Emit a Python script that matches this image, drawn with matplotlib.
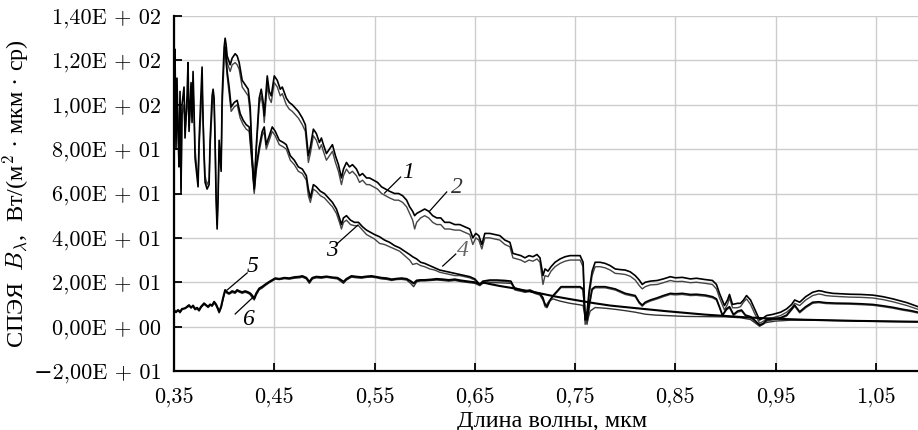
import matplotlib.pyplot as plt

# wavelength grids and spectral radiance values
# curves 1, 2 (upper pair) - common noisy start, then the upper branch
wl_top = [0.350, 0.351, 0.352, 0.353, 0.354, 0.355, 0.356, 0.357, 0.358, 0.360,
          0.361, 0.363, 0.364, 0.365, 0.367, 0.368, 0.369, 0.370, 0.371, 0.373,
          0.374, 0.375, 0.377, 0.378, 0.379, 0.380, 0.381, 0.383, 0.385, 0.386,
          0.388, 0.389, 0.390, 0.391, 0.392, 0.393, 0.394, 0.395, 0.397, 0.398,
          0.400, 0.401, 0.402,
          0.403, 0.406, 0.408, 0.411, 0.413, 0.415, 0.418, 0.421, 0.424, 0.426,
          0.428, 0.430, 0.432, 0.435, 0.437, 0.439, 0.440, 0.443, 0.445, 0.447,
          0.450, 0.453, 0.456, 0.458, 0.462, 0.465, 0.468, 0.470, 0.474, 0.478,
          0.481, 0.484, 0.486, 0.489, 0.492, 0.495, 0.497, 0.499, 0.502, 0.505,
          0.508, 0.511, 0.514, 0.517, 0.519, 0.522, 0.525, 0.528, 0.532, 0.535,
          0.538, 0.542, 0.545, 0.549, 0.553, 0.557, 0.561, 0.565, 0.570, 0.574,
          0.578, 0.582, 0.585, 0.588, 0.590, 0.592, 0.596, 0.600, 0.604, 0.608,
          0.612, 0.616, 0.620, 0.625, 0.630, 0.635, 0.640, 0.645, 0.648, 0.651,
          0.654, 0.657, 0.660, 0.665, 0.670, 0.675, 0.680, 0.685, 0.688, 0.692,
          0.696, 0.700, 0.704, 0.708, 0.712, 0.715, 0.718, 0.720, 0.723, 0.726,
          0.730, 0.735, 0.740, 0.745, 0.750, 0.755, 0.758, 0.760, 0.762, 0.764,
          0.767, 0.770, 0.775, 0.780, 0.785, 0.790, 0.795, 0.800, 0.805, 0.810,
          0.814, 0.817, 0.820, 0.825, 0.832, 0.838, 0.845, 0.850, 0.857, 0.865,
          0.871, 0.880, 0.887, 0.891, 0.894, 0.899, 0.902, 0.904, 0.907, 0.912,
          0.915, 0.918, 0.921, 0.925, 0.929, 0.934, 0.938, 0.941, 0.947, 0.955,
          0.961, 0.966, 0.969, 0.974, 0.980, 0.987, 0.993, 0.996, 1.000, 1.007,
          1.015, 1.024, 1.035, 1.047, 1.057, 1.067, 1.075, 1.081, 1.087, 1.092]

b1 = [98, 115, 85, 105, 92, 75, 100, 62, 95, 100,
      88, 98, 108, 90, 103, 95, 108, 95, 80, 70,
      66, 80, 98, 108, 95, 80, 68, 64, 66, 80,
      98, 104, 101, 85, 60, 46, 60, 80, 72, 98,
      120, 126, 124,
      119, 115, 118, 119, 118, 116, 108, 106, 104, 96,
      74, 61, 79, 100, 104, 98, 92, 109, 103, 101,
      110, 108, 104, 105, 100, 98, 97, 96, 94, 91,
      88, 74, 78, 86, 84, 80, 82, 79, 75, 77,
      79, 74, 70, 64, 68, 71, 69, 70, 68, 65,
      66, 64, 64, 63, 62, 60, 59, 58, 57, 57,
      56, 54, 51, 48, 44, 47, 49, 50, 49, 47,
      46, 46, 44, 44, 43.5, 43.5, 42.5, 41.5, 37, 40,
      39, 35, 40, 40, 39.5, 39, 37, 36, 31, 30.5,
      30, 29, 30, 29.5, 30.5, 29, 19, 23, 22.5, 25,
      27, 28.5, 29.5, 30, 30, 30, 27, 1, 5, 14,
      23, 27, 27, 26.5, 25.5, 24, 23.8, 23.5, 22.7, 21,
      18.5, 17, 18, 18.8, 19, 19.8, 20.8, 20.3, 20.4, 19.8,
      20, 19.5, 19, 17, 13, 7.5, 10, 13, 8.5, 8.5,
      9, 11, 12.5, 10, 6, 1.5, 2.5, 3.5, 4, 5,
      6.5, 8.5, 10.5, 9.5, 12, 14, 14.7, 14.5, 14, 13.7,
      13.5, 13.3, 13.2, 12.9, 12.2, 11.2, 10.2, 9.5, 8.6, 7.8]

b2 = [105, 125, 80, 112, 88, 72, 106, 60, 100, 108,
      85, 104, 119, 88, 110, 92, 115, 98, 76, 67,
      63, 84, 106, 117, 92, 76, 65, 62, 64, 84,
      104, 107, 103, 82, 57, 44, 58, 84, 70, 104,
      126, 130, 127,
      122, 118, 121, 123, 122, 119, 111, 109, 107, 99,
      76, 63, 81, 103, 107, 101, 95, 113, 106, 104,
      113, 111, 107, 108, 103, 101, 100, 99, 97, 94,
      91, 77, 81, 89, 87, 83, 85, 82, 78, 80,
      82, 77, 73, 67, 71, 74, 72, 73, 71, 68,
      69, 67, 67, 66, 65, 63, 62, 61, 60, 60,
      59, 57, 54, 52, 50, 51, 52, 53, 52, 50,
      49, 49, 47, 47, 46, 46, 45, 44, 40, 42,
      41, 37, 42, 42, 41.5, 41, 39, 38, 33, 32.5,
      32, 31, 32, 31.5, 32.5, 31, 23, 26, 25, 27,
      29, 30.5, 31.5, 32, 32, 32, 29, 3, 7, 16,
      25, 29, 29, 28.5, 27.5, 26, 25.7, 25.5, 24.7, 23,
      21, 19, 20, 20.5, 20.8, 21.5, 22.5, 22, 22.2, 21.5,
      21.8, 21.2, 20.8, 19, 15, 9.5, 12, 14.5, 10, 10.5,
      10.5, 12, 14, 12, 8, 3, 4, 5, 5.5, 6.5,
      8, 10, 12, 11, 13.5, 15.5, 16.2, 16, 15.5, 15,
      14.8, 14.6, 14.5, 14.2, 13.5, 12.5, 11.5, 10.8, 9.8, 9]

# curves 3, 4 (middle pair) - branch off at 0.40 mkm
wl_mid = [0.401,
          0.403, 0.405, 0.407, 0.410, 0.413, 0.416, 0.419, 0.422, 0.425, 0.428,
          0.430, 0.432, 0.435, 0.438, 0.440, 0.442, 0.445, 0.448, 0.451, 0.455,
          0.459, 0.462, 0.466, 0.470, 0.474, 0.478, 0.482, 0.484, 0.486, 0.489,
          0.492, 0.496, 0.500, 0.504, 0.508, 0.512, 0.515, 0.517, 0.519, 0.522,
          0.526, 0.530, 0.534, 0.538, 0.542, 0.546, 0.550, 0.555, 0.560, 0.565,
          0.570, 0.575, 0.580, 0.585, 0.588, 0.592, 0.596, 0.600, 0.605, 0.610,
          0.615, 0.620, 0.625, 0.630, 0.635, 0.640, 0.645, 0.650, 0.655, 0.658,
          0.665, 0.672, 0.680, 0.686, 0.690, 0.695, 0.700, 0.705, 0.710, 0.715,
          0.718, 0.720, 0.722, 0.725, 0.728, 0.732, 0.736, 0.740, 0.745, 0.750,
          0.755, 0.758, 0.760, 0.762, 0.764, 0.767, 0.770, 0.775, 0.780, 0.785,
          0.790, 0.795, 0.800, 0.805, 0.810, 0.814, 0.817, 0.820, 0.825, 0.832,
          0.838, 0.845, 0.850, 0.857, 0.865, 0.871, 0.880, 0.887, 0.891, 0.894,
          0.897, 0.901, 0.904, 0.908, 0.912, 0.916, 0.920, 0.925, 0.929, 0.934,
          0.938, 0.941, 0.947, 0.955, 0.961, 0.966, 0.969, 0.974, 0.980, 0.987,
          0.993, 1.000, 1.010, 1.024, 1.035, 1.047, 1.057, 1.067, 1.077, 1.085,
          1.092]

b3 = [126,
      115, 108, 99, 101, 102, 96, 93, 91, 90, 75,
      62, 72, 81, 88, 90, 82, 86, 90, 88, 84,
      83, 82, 77, 75, 72, 71, 68, 62, 58, 64,
      63, 61, 60, 58, 56, 53, 49, 46, 49, 50,
      48, 47, 47, 45, 43.5, 42.5, 41.5, 40.5, 39, 38,
      36.5, 35.5, 34, 32.5, 31.5, 30.5, 29, 28.5, 27.5, 26.5,
      25.5, 25, 24.5, 24, 23.5, 23, 22.5, 21.5, 19, 20.5,
      21, 21, 20.8, 20.5, 17, 16.5, 16, 16.5, 15.5, 15,
      13, 10, 9, 12, 14, 16, 18, 18, 18, 18,
      18, 17, 5, 3, 10, 17, 18, 18, 18, 17.5,
      17, 16, 15, 14.5, 14, 11, 9.7, 11, 12, 13,
      14, 15, 14.8, 15, 14.5, 14.6, 14.2, 13.5, 12.5, 9,
      5.2, 8, 9, 5.5, 7, 7.5, 5.2, 4.5, 3, 0.7,
      1.5, 3, 3.5, 4, 5.2, 8, 9.7, 6.7, 9, 11,
      11.2, 10.8, 10.6, 10.5, 10.3, 10, 9.4, 8.7, 7.8, 7.2,
      6.5]

b4 = [125,
      113, 105, 97, 99, 100, 94, 91, 89, 88, 72,
      60, 70, 79, 86, 88, 80, 84, 88, 86, 82,
      81, 80, 75, 73, 70, 69, 66, 59, 56, 62,
      61, 59, 58, 56, 54, 51, 47, 44, 47, 48,
      46, 45.5, 45.5, 43.5, 41.5, 40.5, 39.5, 37.5, 37, 36,
      35, 34, 32, 30, 28, 28.5, 27.5, 27, 26, 25.5,
      24.5, 24, 23.5, 23, 23, 22.5, 22, 21, 18.5, 20,
      20.6, 20.6, 20.4, 20, 16.5, 16, 15.5, 16, 15, 14.5,
      12, 9, 8.5, 11.5, 13.5, 15.5, 17.6, 17.6, 17.6, 17.6,
      17.6, 16.5, 3, 1, 8, 16.5, 17.5, 17.5, 17.5, 17,
      16.5, 15.5, 14.5, 14, 13.5, 10.5, 9.2, 10.5, 11.5, 12.5,
      13.5, 14.5, 14.3, 14.5, 14, 14.1, 13.7, 13, 12, 8.5,
      4.8, 7.5, 8.5, 5, 6.5, 7, 4.8, 4, 2.5, 0.3,
      1.2, 2.5, 3, 3.6, 4.8, 7.5, 9.2, 6.2, 8.5, 10.5,
      10.8, 10.4, 10.2, 10.1, 9.9, 9.6, 9, 8.3, 7.4, 6.8,
      6.1]

# curves 5, 6 (lower pair)
wl_low = [0.350, 0.352, 0.354, 0.356, 0.358, 0.361, 0.363, 0.365, 0.367, 0.369,
          0.371, 0.373, 0.375, 0.377, 0.380, 0.382, 0.384, 0.386, 0.388, 0.390,
          0.392, 0.394, 0.395, 0.397, 0.399, 0.401, 0.403, 0.405, 0.408, 0.411,
          0.413, 0.415, 0.418, 0.421, 0.424, 0.426, 0.428, 0.430, 0.432, 0.435,
          0.438, 0.441, 0.445, 0.448, 0.451, 0.455, 0.460, 0.465, 0.470, 0.475,
          0.478, 0.482, 0.485, 0.488, 0.492, 0.497, 0.502, 0.508, 0.513, 0.516,
          0.519, 0.522, 0.527, 0.532, 0.537, 0.542, 0.547, 0.552, 0.557, 0.562,
          0.567, 0.572, 0.577, 0.582, 0.586, 0.589, 0.592, 0.596, 0.600, 0.606,
          0.612, 0.618, 0.624, 0.630, 0.636, 0.641, 0.646, 0.650, 0.655, 0.658]

b5_low = [7.5, 6.5, 7.5, 6.7, 8, 8.2, 9, 9.7, 8.5, 9.5,
          8, 8.5, 7.5, 9, 10.5, 9.7, 9, 10, 9.5, 11.2,
          10, 8, 6.7, 9, 13, 16.5, 15.5, 15, 16, 15.5,
          16.5, 16, 15.5, 16, 15.5, 15, 14, 12.7, 15, 17.2,
          18, 19, 20.2, 21, 21.8, 21.5, 22, 21.8, 22.3, 22.5,
          22.8, 22, 20.2, 22, 22.5, 22.3, 22.6, 22.2, 22, 21.2,
          20.2, 21.5, 22.8, 22.5, 22.3, 22.6, 22.8, 22.4, 22, 21.8,
          21.3, 21.6, 21.8, 21.5, 20.5, 19.5, 20.8, 21, 21, 21.2,
          21.5, 21.3, 21, 21.3, 20.8, 20.5, 20.2, 20, 19.2, 19.9]

b6_low = [7, 6.8, 7.2, 6.2, 7.6, 8.5, 8.6, 9.2, 8.8, 9,
          7.6, 8, 7, 8.6, 10, 9.4, 8.6, 9.6, 9.2, 10.6,
          9.5, 7.4, 6.2, 8.5, 12.5, 16, 15, 14.6, 15.4, 15,
          16, 15.6, 15, 15.5, 15, 14.4, 13, 12, 14.2, 16.6,
          17.4, 18.5, 19.8, 20.6, 21.4, 21.2, 21.6, 21.4, 21.8, 22,
          22.3, 21.5, 19.5, 21.5, 22, 21.8, 22.2, 21.8, 21.5, 20.5,
          19.5, 21, 22.3, 22, 21.8, 22.2, 22.3, 22, 21.5, 21.3,
          20.8, 21.2, 21.3, 21, 19.5, 18, 20.2, 20.6, 20.6, 20.8,
          21, 20.8, 20.5, 20.8, 20.3, 20, 19.7, 19.5, 18.5, 19.5]

wl5_tail = [0.665, 0.675, 0.686, 0.700, 0.715, 0.730, 0.745, 0.758, 0.770, 0.785,
            0.800, 0.820, 0.840, 0.860, 0.880, 0.900, 0.920, 0.943, 0.960, 0.980,
            1.000, 1.030, 1.060, 1.092]
b5_tail = [19.2, 18.3, 17.5, 16.3, 15, 13.6, 12.4, 11.4, 10.5, 9.5,
           8.8, 7.9, 7, 6.2, 5.4, 4.8, 4.2, 3.7, 3.4, 3.1,
           2.9, 2.6, 2.4, 2.2]

wl6_tail = [0.665, 0.672, 0.680, 0.686, 0.690, 0.695, 0.700, 0.705, 0.710, 0.715,
            0.718, 0.721, 0.724, 0.728, 0.735, 0.745, 0.755, 0.758, 0.760, 0.762,
            0.765, 0.770, 0.780, 0.790, 0.800, 0.810, 0.820, 0.830, 0.845, 0.860,
            0.880, 0.900, 0.915, 0.925, 0.934, 0.940, 0.950, 0.965, 0.980, 1.000,
            1.030, 1.060, 1.092]
b6_tail = [19.8, 19.8, 19.6, 19.5, 17.5, 16.8, 15.5, 16, 15, 14.2,
           12, 9.5, 11.5, 12.5, 11.5, 10.5, 9.8, 9.5, 4, 2,
           7, 8.6, 8.3, 7.8, 7.2, 6.5, 5.6, 5.2, 4.9, 4.6,
           4.5, 4.4, 4.0, 3.2, 0.2, 1.8, 2.5, 2.9, 2.9, 2.8,
           2.5, 2.3, 2.1]

xticks = [0.35, 0.45, 0.55, 0.65, 0.75, 0.85, 0.95, 1.05]
xtick_labels = ["0,35", "0,45", "0,55", "0,65", "0,75", "0,85", "0,95", "1,05"]
yticks = [-20, 0, 20, 40, 60, 80, 100, 120, 140]
ytick_labels = ["\u22122,00E + 01", "0,00E + 00", "2,00E + 01", "4,00E + 01",
                "6,00E + 01", "8,00E + 01", "1,00E + 02", "1,20E + 02", "1,40E + 02"]

# curve numbers: (text, text pos, leader start, leader end, colour)
curve_labels = [
    ("1", (0.583, 69.5), (0.576, 67.4), (0.560, 60.2), "black"),
    ("2", (0.632, 62.5), (0.622, 60.7), (0.605, 52.1), "#333333"),
    ("3", (0.5075, 34.5), (0.5135, 37.7), (0.5335, 45.8), "black"),
    ("4", (0.638, 34.5), (0.631, 32.7), (0.618, 27.3), "#666666"),
    ("5", (0.428, 27.0), (0.423, 24.2), (0.403, 16.5), "black"),
    ("6", (0.424, 3.0), (0.411, 5.7), (0.429, 13.3), "black"),
]

plt.rcParams["mathtext.fontset"] = "cm"
tick_font = ["cmr10", "DejaVu Serif"]
text_font = ["Liberation Serif", "DejaVu Serif"]

fig = plt.figure(figsize=(9.18, 4.30), dpi=100)
ax = fig.add_axes([174 / 918, 1 - 371 / 430, 744 / 918, 355 / 430])

ax.plot(wl_top, b1, color="#444444", lw=1.0, zorder=3)
ax.plot(wl_top, b2, color="black", lw=1.2, zorder=4)
ax.plot(wl_mid, b3, color="black", lw=1.2, zorder=4)
ax.plot(wl_mid, b4, color="#444444", lw=1.0, zorder=3)
ax.plot(wl_low + wl5_tail, b5_low + b5_tail, color="black", lw=1.5, zorder=4)
ax.plot(wl_low + wl6_tail, b6_low + b6_tail, color="#333333", lw=1.0, zorder=3)

for txt, tpos, l0, l1, col in curve_labels:
    ax.plot([l0[0], l1[0]], [l0[1], l1[1]], color="black", lw=0.9, zorder=5)
    ax.text(tpos[0], tpos[1], txt, ha="center", va="center", fontsize=17,
            style="italic", family=text_font, color=col, zorder=5)

ax.set_xlim(0.35, 1.092)
ax.set_ylim(-20, 140)
ax.set_xticks(xticks)
ax.set_xticklabels(xtick_labels, family=tick_font, fontsize=16)
ax.set_yticks(yticks)
ax.set_yticklabels(ytick_labels, family=tick_font, fontsize=16)
ax.tick_params(direction="in", length=6, width=1.3, color="black", pad=9)
ax.tick_params(axis="x", pad=12)

ax.grid(True, color="#cccccc", lw=1.0, zorder=0)
ax.set_axisbelow(True)
for side in ["top", "right"]:
    ax.spines[side].set_visible(False)
for side in ["left", "bottom"]:
    ax.spines[side].set_linewidth(1.6)
    ax.spines[side].set_zorder(6)

ax.set_xlabel("Длина волны, мкм", family=text_font, fontsize=17.5)
ax.xaxis.set_label_coords(0.508, -0.112)
ax.set_ylabel("СПЭЯ  $B_\\lambda$,  Вт/(м$^2$ · мкм · ср)", family=text_font,
              fontsize=17.5)
ax.yaxis.set_label_coords(-0.192, 0.5)

fig.savefig("out.png", dpi=100)
